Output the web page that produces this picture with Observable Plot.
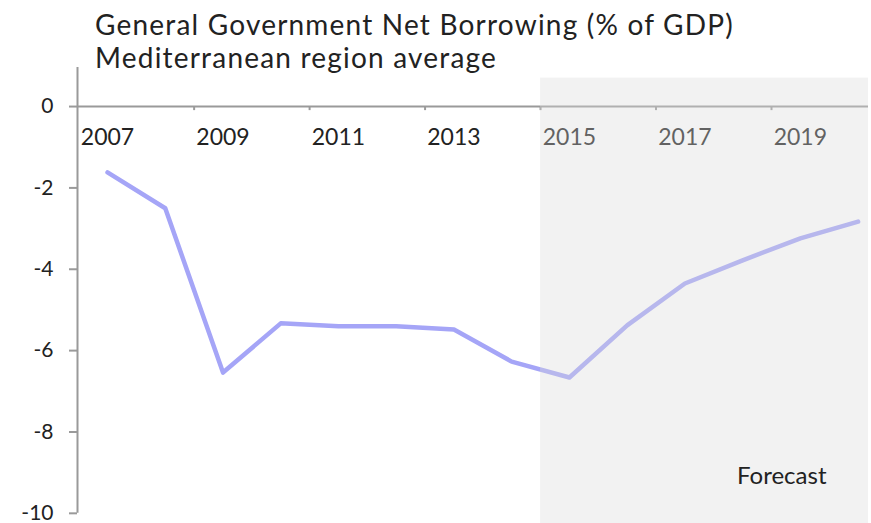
<!DOCTYPE html>
<html><head><meta charset="utf-8">
<script src="https://cdn.jsdelivr.net/npm/d3@7"></script>
<script src="https://cdn.jsdelivr.net/npm/@observablehq/plot@0.6"></script>
<style>body{margin:0;background:#fff;font-family:Lato,sans-serif}</style>
</head><body><div id="chart"></div>
<script>
const years = [2007,2008,2009,2010,2011,2012,2013,2014,2015,2016,2017,2018,2019,2020];
const values = [-1.62,-2.5,-6.54,-5.33,-5.4,-5.4,-5.48,-6.27,-6.66,-5.38,-4.35,-3.78,-3.24,-2.83];
const xLabels = [2007,2009,2011,2013,2015,2017,2019];
const xTicks = [2008.5,2010.5,2012.5,2014.5,2016.5,2018.5];
const yTicks = [0,-2,-4,-6,-8,-10];
const forecastStart = 2014.5;
const titleLines = ["General Government Net Borrowing (% of GDP)", "Mediterranean region average"];
const forecastLabel = "Forecast";

const data = years.map((y,i)=>({year:y, value:values[i]}));
const xMin = 2006.48, xMax = 2020.18, yMin = -10.25, yMax = 0.96;
const axisColor = "#9a9a9a";

const chart = Plot.plot({
  width: 871, height: 523,
  marginLeft: 77, marginRight: 3, marginTop: 67, marginBottom: 0,
  style: {fontFamily: "Lato, sans-serif", fontSize: "21px", color: "#222", background: "#fff"},
  x: {domain: [xMin, xMax], axis: null},
  y: {domain: [yMin, yMax], axis: null},
  marks: [
    Plot.ruleX([xMin], {y1: -10, y2: yMax, stroke: axisColor, strokeWidth: 2}),
    Plot.ruleY([0], {x1: xMin, x2: xMax, stroke: axisColor, strokeWidth: 2}),
    Plot.axisY({ticks: yTicks, label: null, tickSize: 8, tickPadding: 16, stroke: axisColor, strokeWidth: 2, fill: "#222", fontSize: 21, tickFormat: d => d === 0 ? "0" : "-" + Math.abs(d)}),
    Plot.ruleX(xTicks, {y1: 0, y2: -0.1, stroke: axisColor, strokeWidth: 2}),
    Plot.text(xLabels, {x: d => d, y: 0, dy: 31, text: d => String(d), fill: "#222", fontSize: 23, lineAnchor: "middle"}),
    Plot.line(data, {x: "year", y: "value", stroke: "#a5a5f7", strokeWidth: 4.5, strokeLinejoin: "round", strokeLinecap: "round"}),
    Plot.rect([{}], {x1: forecastStart, x2: xMax, y1: yMin, y2: 0.7, fill: "#dadada", fillOpacity: 0.35}),
    Plot.text([forecastLabel], {frameAnchor: "bottom-right", text: d => d, dx: -42, dy: -40, fill: "#222", fontSize: 24, textAnchor: "end", lineAnchor: "bottom"})
  ]
});
const svg = d3.select(chart);
titleLines.forEach((t,i) => {
  svg.append("text").attr("x", 95).attr("y", 35 + i*33).attr("fill", "#222")
    .attr("text-anchor", "start")
    .style("font-family", "Lato, sans-serif").style("font-size", "28px")
    .style("letter-spacing", "1.2px").text(t);
});
document.getElementById("chart").append(chart);
</script></body></html>
